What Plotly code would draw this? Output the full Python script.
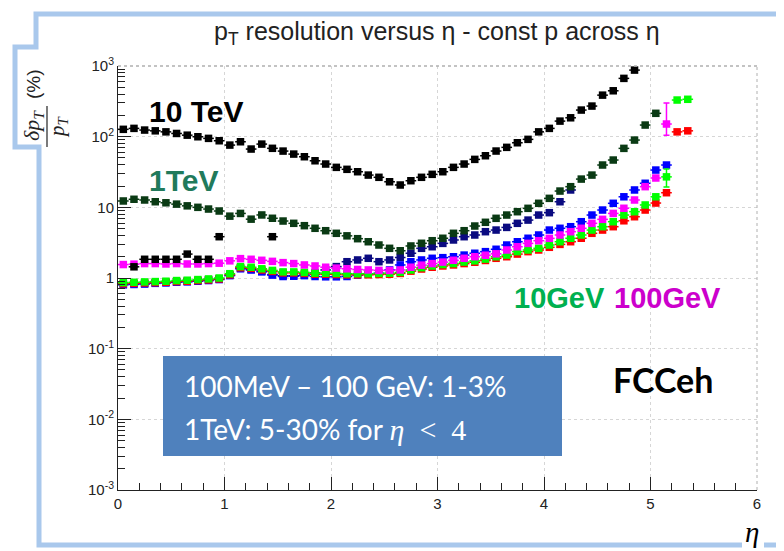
import plotly.graph_objects as go

# ---------------- data ----------------
eta_10tev = [round(0.05 + 0.1 * i, 2) for i in range(49)]
res_10tev = [127, 131, 124, 121, 117, 111, 105, 99.7, 94.6, 87.5,
             76, 84.7, 66.8, 78.5, 68.4, 62.5, 56.7, 52, 45.6, 41,
             36.8, 34.5, 31.9, 28.6, 26.6, 23, 20.7, 23.8, 26.6, 29.3,
             31.9, 36.8, 41, 47.7, 53.7, 62.6, 70.6, 82, 91.6, 117,
             131, 166, 185, 238, 271, 387, 446, 668, 875]

eta_1tev = [round(0.05 + 0.1 * i, 2) for i in range(51)]
res_1tev = [12.3, 13, 12.7, 12, 11.6, 11.1, 10.5, 10, 9.46, 8.87,
            7.5, 8.2, 6.8, 7.8, 7.0, 6.4, 5.94, 5.5, 5.05, 4.67,
            4.29, 3.95, 3.6, 3.26, 2.93, 2.63, 2.43, 2.84, 3.1, 3.37,
            3.65, 4.29, 4.67, 5.44, 6.14, 6.99, 7.78, 8.67, 9.68, 11.4,
            13.4, 17, 19.6, 25.1, 28.6, 39.7, 46.7, 68.3, 89.5, 146,
            214]

eta_black_low = [0.15, 0.25, 0.35, 0.45, 0.55, 0.65, 0.75, 0.85, 0.95, 1.45]
res_black_low = [1.44, 1.84, 1.84, 1.84, 1.84, 2.18, 1.84, 1.84, 3.84, 3.84]

eta_navy = [round(0.05 + 0.1 * i, 2) for i in range(43)]
res_navy = [0.82, 0.83, 0.84, 0.85, 0.87, 0.88, 0.9, 0.92, 0.94, 0.97,
            1.1, 1.38, 1.32, 1.25, 1.12, 1.08, 1.08, 1.1, 1.18, 1.3,
            1.45, 1.7, 1.8, 1.9, 1.7, 1.8, 1.95, 2.24, 2.63, 2.77,
            3.09, 3.45, 3.84, 4.06, 4.52, 4.77, 5.2, 5.94, 6.6, 7.78,
            8.4, 12, 17.6]

eta_blue = [round(0.05 + 0.1 * i, 2) for i in range(52)]
res_blue = [0.8, 0.81, 0.82, 0.84, 0.85, 0.87, 0.88, 0.9, 0.92, 0.95,
            1.08, 1.35, 1.3, 1.22, 1.1, 1.05, 1.06, 1.08, 1.05, 1.04,
            1.04, 1.05, 1.1, 1.13, 1.17, 1.3, 1.53, 1.7, 1.8, 1.9,
            1.94, 2.0, 2.11, 2.24, 2.36, 2.55, 2.93, 3.26, 3.65, 4.06,
            4.77, 5.05, 5.32, 6.26, 7.78, 9.16, 11.4, 14.1, 17.6, 21.9,
            33.7, 39.7]

eta_red = [round(0.05 + 0.1 * i, 2) for i in range(54)]
res_red = [0.83, 0.84, 0.85, 0.86, 0.87, 0.89, 0.9, 0.92, 0.94, 0.97,
           1.11, 1.4, 1.37, 1.3, 1.24, 1.18, 1.18, 1.16, 1.13, 1.13,
           1.12, 1.11, 1.11, 1.11, 1.12, 1.13, 1.16, 1.25, 1.34, 1.42,
           1.48, 1.53, 1.6, 1.67, 1.77, 1.9, 2.0, 2.18, 2.36, 2.49,
           2.72, 2.99, 3.26, 3.65, 4.29, 4.77, 5.32, 6.45, 7.36, 9.16,
           11.5, 16.1, 117, 121]

eta_green = [round(0.05 + 0.1 * i, 2) for i in range(54)]
res_green = [0.86, 0.87, 0.88, 0.89, 0.9, 0.92, 0.93, 0.95, 0.97, 1.0,
             1.15, 1.45, 1.42, 1.35, 1.28, 1.22, 1.22, 1.2, 1.17, 1.17,
             1.16, 1.15, 1.15, 1.15, 1.16, 1.17, 1.2, 1.3, 1.4, 1.48,
             1.55, 1.6, 1.68, 1.75, 1.85, 2.0, 2.11, 2.36, 2.49, 2.63,
             2.93, 3.26, 3.65, 4.06, 4.77, 5.32, 6.26, 7.78, 8.67, 10.8,
             14.1, 27, 330, 338]
err_green_up = [0] * 51 + [8, 0, 0]
err_green_dn = [0] * 51 + [7.6, 0, 0]

eta_magenta = [round(0.05 + 0.1 * i, 2) for i in range(52)]
res_magenta = [1.55, 1.57, 1.6, 1.6, 1.58, 1.6, 1.58, 1.58, 1.6, 1.62,
               1.75, 1.88, 1.84, 1.78, 1.72, 1.65, 1.6, 1.53, 1.48, 1.42,
               1.38, 1.35, 1.32, 1.3, 1.28, 1.28, 1.3, 1.42, 1.52, 1.6,
               1.68, 1.78, 1.9, 2.0, 2.1, 2.2, 2.49, 2.77, 3.09, 3.37,
               3.64, 4.06, 4.52, 5.05, 5.94, 6.76, 8.2, 9.7, 12.7, 19.6,
               26, 151]
err_magenta_up = [0] * 51 + [148]
err_magenta_dn = [0] * 51 + [46]

x_ticks = [0, 1, 2, 3, 4, 5, 6]
y_ticks = [1e-3, 1e-2, 1e-1, 1, 10, 100, 1000]
y_ticktext = ["10<sup>-3</sup>", "10<sup>-2</sup>", "10<sup>-1</sup>", "1", "10",
              "10<sup>2</sup>", "10<sup>3</sup>"]
y_minor = [k * 10.0 ** n for n in range(-3, 3) for k in range(2, 10)]

# ---------------- geometry (page pixels; page body has an 8px margin) ----------------
OFF = 8
W, H = 784 - OFF, 551 - OFF
L, R, T, B = 118, 757, 66, 490   # plot area in page pixels


def px(x):
    return (x - L) / (R - L)


def py(y):
    return (B - y) / (B - T)


fig = go.Figure()


def add_series(x, y, color, eu=None, ed=None):
    kw = {}
    if eu is not None:
        kw["error_y"] = dict(type="data", symmetric=False, array=eu, arrayminus=ed,
                             color=color, thickness=1.5, width=3)
    fig.add_trace(go.Scatter(
        x=x, y=y, mode="markers",
        marker=dict(symbol="square", size=7.5, color=color, line=dict(width=0)),
        error_x=dict(type="constant", value=0.05, color=color, thickness=1.5, width=0),
        showlegend=False, hoverinfo="skip", **kw))


add_series(eta_navy, res_navy, "#0a0a80")
add_series(eta_blue, res_blue, "#0000ff")
add_series(eta_red, res_red, "#ff0000")
add_series(eta_green, res_green, "#00ff00", err_green_up, err_green_dn)
add_series(eta_magenta, res_magenta, "#ff00ff", err_magenta_up, err_magenta_dn)
add_series(eta_black_low, res_black_low, "#000000")
add_series(eta_1tev, res_1tev, "#0a3a14")
add_series(eta_10tev, res_10tev, "#000000")

frame_blue = "#a9c8ec"
shapes = [
    # slide frame with the notch for the y-label box
    dict(type="path", xref="paper", yref="paper", layer="below",
         path="M {a},{b} L {c},{d} L {e},{f} L {g},{h} L {i},{j} L {k},{l} L {m},{n} L {o},{p}".format(
             a=px(742), b=py(545), c=px(39), d=py(545), e=px(39), f=py(147),
             g=px(15), h=py(147), i=px(15), j=py(47), k=px(36), l=py(47),
             m=px(36), n=py(14), o=px(790), p=py(14)),
         line=dict(color=frame_blue, width=5)),
    dict(type="line", xref="paper", yref="paper", layer="below",
         x0=px(764), x1=px(790), y0=py(545), y1=py(545),
         line=dict(color=frame_blue, width=5)),
    # dotted top and right frame
    dict(type="line", xref="paper", yref="paper", x0=0, x1=1, y0=1, y1=1,
         line=dict(color="#b0b0b0", width=1.5, dash="dot")),
    dict(type="line", xref="paper", yref="paper", x0=1, x1=1, y0=0, y1=1,
         line=dict(color="#b0b0b0", width=1, dash="dot")),
    # blue info box
    dict(type="rect", xref="paper", yref="paper", layer="above",
         x0=px(163), x1=px(562), y0=py(456), y1=py(356),
         fillcolor="#4f81bd", line=dict(width=0)),
    # fraction bar of y label
    dict(type="line", xref="paper", yref="paper",
         x0=px(47), x1=px(47), y0=py(106), y1=py(147),
         line=dict(color="#222222", width=1.2)),
]


def ann(text, x, y, size, color="#000000", family="Liberation Sans", xanchor="left",
        textangle=0, bold=False):
    if bold:
        text = "<b>" + text + "</b>"
    return dict(text=text, x=px(x), y=py(y), xref="paper", yref="paper",
                xanchor=xanchor, yanchor="middle", showarrow=False, textangle=textangle,
                borderpad=0, font=dict(size=size, color=color, family=family))


NB = "\u00a0"
annotations = [
    ann("p<sub>T</sub> resolution versus η - const p across η", 437, 33, 25,
        "#222222", xanchor="center"),
    ann("10 TeV", 148, 111, 30, bold=True),
    ann("1TeV", 148, 180, 30, "#217a5b", bold=True),
    ann("10GeV", 513, 298, 29, "#00b050", bold=True),
    ann("100GeV", 613, 298, 29, "#cc00cc", bold=True),
    ann("FCCeh", 612, 379, 34, family="Lato", bold=True),
    ann("100MeV – 100 GeV: 1-3%", 183, 386, 28, "#ffffff", family="Lato"),
    ann("1TeV: 5-30% for <span style='font-family:Liberation Serif;font-size:30px'><i>η</i>"
        + NB + NB + "&lt;" + NB + NB + "4</span>",
        183, 429, 28, "#ffffff", family="Lato"),
    ann("<i>η</i>", 752, 532, 29, family="Liberation Serif", xanchor="center"),
    ann("(%)", 33, 84, 19, "#222222", xanchor="center", textangle=-90),
    ann("<i>δp<sub>T</sub></i>", 33, 126, 22, "#222222", family="Liberation Serif",
        xanchor="center", textangle=-90),
    ann("<i>p<sub>T</sub></i>", 58, 127, 21, "#222222", family="Liberation Serif",
        xanchor="center", textangle=-90),
]

axis_font = dict(family="Liberation Sans", size=15, color="#222222")
fig.update_layout(
    width=W, height=H, autosize=False,
    margin=dict(l=L - OFF, r=W - (R - OFF), t=T - OFF, b=H - (B - OFF), pad=0),
    paper_bgcolor="white", plot_bgcolor="white",
    shapes=shapes, annotations=annotations,
    xaxis=dict(range=[0, 6], tickvals=x_ticks, ticks="inside", ticklen=13,
               tickcolor="#222222", showline=True, linecolor="#222222", linewidth=1,
               showgrid=True, gridcolor="#d6d6d6", griddash="dot", zeroline=False,
               tickfont=axis_font, automargin=False,
               minor=dict(ticks="inside", ticklen=7, dtick=0.2, tick0=0,
                          tickcolor="#222222", showgrid=False)),
    yaxis=dict(type="log", range=[-3, 3], tickvals=y_ticks, ticktext=y_ticktext,
               ticks="inside", ticklen=13, tickcolor="#222222", showline=True,
               linecolor="#222222", linewidth=1, showgrid=True, gridcolor="#d6d6d6",
               griddash="dot", zeroline=False, tickfont=axis_font, automargin=False,
               minor=dict(ticks="inside", ticklen=7, tickmode="array", tickvals=y_minor,
                          tickcolor="#222222", showgrid=False)),
)

fig.write_html("out.html")
